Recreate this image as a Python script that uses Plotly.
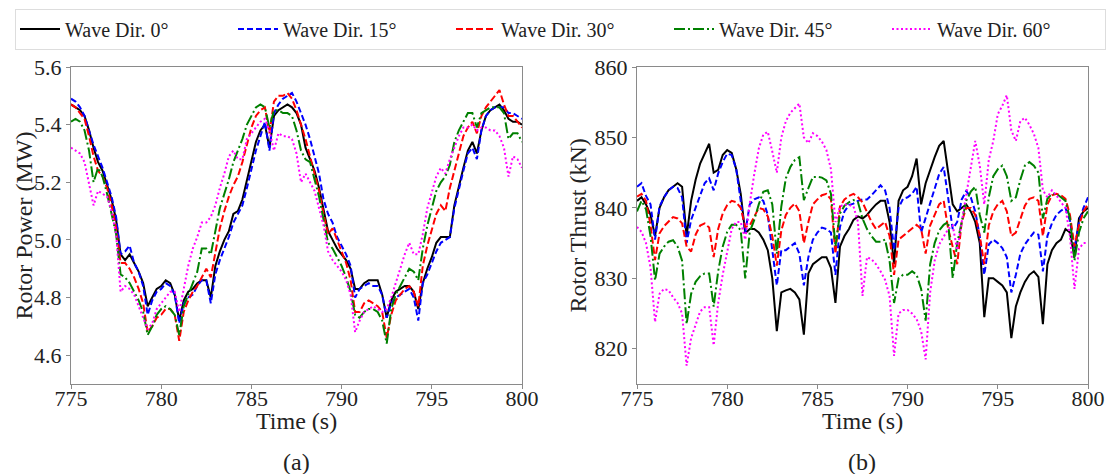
import plotly.graph_objects as go

# ---------------- data ----------------
time_s = [775.0, 775.25, 775.5, 775.75, 776.0, 776.25, 776.5, 776.75, 777.0, 777.25,
          777.5, 777.75, 778.0, 778.25, 778.5, 778.75, 779.0, 779.25, 779.5, 779.75,
          780.0, 780.25, 780.5, 780.75, 781.0, 781.25, 781.5, 781.75, 782.0, 782.25,
          782.5, 782.75, 783.0, 783.25, 783.5, 783.75, 784.0, 784.25, 784.5, 784.75,
          785.0, 785.25, 785.5, 785.75, 786.0, 786.25, 786.5, 786.75, 787.0, 787.25,
          787.5, 787.75, 788.0, 788.25, 788.5, 788.75, 789.0, 789.25, 789.5, 789.75,
          790.0, 790.25, 790.5, 790.75, 791.0, 791.25, 791.5, 791.75, 792.0, 792.25,
          792.5, 792.75, 793.0, 793.25, 793.5, 793.75, 794.0, 794.25, 794.5, 794.75,
          795.0, 795.25, 795.5, 795.75, 796.0, 796.25, 796.5, 796.75, 797.0, 797.25,
          797.5, 797.75, 798.0, 798.25, 798.5, 798.75, 799.0, 799.25, 799.5, 799.75,
          800.0]

series_names = ["Wave Dir. 0°", "Wave Dir. 15°", "Wave Dir. 30°", "Wave Dir. 45°", "Wave Dir. 60°"]

# Rotor power (MW)
power_dir0 = [5.47, 5.46, 5.45, 5.43, 5.38, 5.32, 5.27, 5.24, 5.19, 5.14, 5.07, 4.95, 4.93, 4.95, 4.92, 4.89, 4.85,
              4.77, 4.80, 4.83, 4.84, 4.86, 4.85, 4.81, 4.72, 4.79, 4.82, 4.83, 4.85, 4.86, 4.86, 4.80, 4.91, 4.96,
              5.00, 5.03, 5.09, 5.10, 5.14, 5.21, 5.28, 5.34, 5.38, 5.40, 5.32, 5.43, 5.45, 5.46, 5.47, 5.46, 5.44,
              5.40, 5.32, 5.28, 5.24, 5.18, 5.11, 5.03, 5.00, 4.97, 4.95, 4.93, 4.90, 4.83, 4.83, 4.85, 4.86, 4.86,
              4.86, 4.81, 4.73, 4.79, 4.82, 4.83, 4.84, 4.84, 4.82, 4.76, 4.85, 4.90, 4.94, 4.99, 5.01, 5.01, 5.01,
              5.12, 5.19, 5.25, 5.31, 5.34, 5.30, 5.38, 5.43, 5.45, 5.46, 5.47, 5.45, 5.42, 5.41, 5.41, 5.40]
power_dir15 = [5.49, 5.48, 5.46, 5.43, 5.38, 5.33, 5.29, 5.25, 5.20, 5.15, 5.08, 4.95, 4.96, 4.98, 4.92, 4.89, 4.84,
               4.74, 4.79, 4.82, 4.83, 4.85, 4.84, 4.81, 4.71, 4.78, 4.80, 4.81, 4.84, 4.86, 4.86, 4.78, 4.88, 4.93,
               4.97, 5.01, 5.06, 5.09, 5.12, 5.18, 5.25, 5.31, 5.36, 5.41, 5.31, 5.44, 5.47, 5.49, 5.50, 5.51, 5.48,
               5.44, 5.40, 5.35, 5.29, 5.23, 5.14, 5.09, 5.06, 5.01, 4.98, 4.95, 4.91, 4.80, 4.83, 4.84, 4.85, 4.84,
               4.84, 4.81, 4.73, 4.78, 4.80, 4.81, 4.82, 4.83, 4.80, 4.72, 4.85, 4.88, 4.92, 4.96, 4.99, 5.00, 5.01,
               5.11, 5.18, 5.24, 5.30, 5.32, 5.28, 5.38, 5.43, 5.45, 5.46, 5.46, 5.46, 5.44, 5.44, 5.43, 5.42]
power_dir30 = [5.47, 5.46, 5.44, 5.42, 5.36, 5.29, 5.24, 5.22, 5.18, 5.12, 5.04, 4.92, 4.92, 4.90, 4.87, 4.83, 4.78,
               4.68, 4.70, 4.73, 4.74, 4.76, 4.76, 4.74, 4.65, 4.75, 4.79, 4.82, 4.84, 4.87, 4.90, 4.87, 4.96, 5.04,
               5.10, 5.15, 5.19, 5.22, 5.27, 5.33, 5.39, 5.43, 5.45, 5.46, 5.37, 5.48, 5.50, 5.50, 5.51, 5.49, 5.45,
               5.40, 5.35, 5.29, 5.23, 5.17, 5.09, 5.02, 5.04, 5.00, 4.96, 4.92, 4.86, 4.75, 4.75, 4.78, 4.79, 4.78,
               4.77, 4.75, 4.66, 4.74, 4.79, 4.81, 4.83, 4.84, 4.82, 4.77, 4.91, 4.98, 5.04, 5.09, 5.12, 5.10, 5.18,
               5.24, 5.31, 5.36, 5.39, 5.41, 5.37, 5.43, 5.46, 5.48, 5.50, 5.52, 5.47, 5.43, 5.43, 5.41, 5.39]
power_dir45 = [5.41, 5.42, 5.41, 5.38, 5.31, 5.20, 5.25, 5.22, 5.16, 5.09, 5.02, 4.88, 4.87, 4.85, 4.82, 4.79, 4.75,
               4.67, 4.70, 4.74, 4.76, 4.77, 4.76, 4.74, 4.67, 4.77, 4.81, 4.85, 4.89, 4.97, 4.97, 4.95, 5.03, 5.11,
               5.16, 5.21, 5.27, 5.31, 5.35, 5.40, 5.43, 5.46, 5.47, 5.46, 5.39, 5.45, 5.45, 5.44, 5.44, 5.43, 5.38,
               5.31, 5.28, 5.27, 5.21, 5.15, 5.07, 4.99, 4.97, 4.94, 4.91, 4.87, 4.82, 4.74, 4.73, 4.75, 4.76, 4.76,
               4.75, 4.72, 4.64, 4.76, 4.81, 4.84, 4.87, 4.90, 4.89, 4.86, 4.97, 5.05, 5.11, 5.17, 5.20, 5.22, 5.26,
               5.34, 5.38, 5.41, 5.44, 5.44, 5.39, 5.44, 5.45, 5.46, 5.46, 5.46, 5.44, 5.35, 5.37, 5.37, 5.34]
power_dir60 = [5.32, 5.31, 5.30, 5.27, 5.20, 5.12, 5.17, 5.16, 5.15, 5.10, 5.02, 4.82, 4.84, 4.83, 4.81, 4.77, 4.73,
               4.69, 4.71, 4.76, 4.78, 4.80, 4.82, 4.82, 4.75, 4.83, 4.91, 4.97, 5.01, 5.06, 5.06, 5.08, 5.12, 5.18,
               5.23, 5.29, 5.31, 5.28, 5.28, 5.35, 5.37, 5.39, 5.41, 5.42, 5.38, 5.31, 5.37, 5.36, 5.36, 5.35, 5.30,
               5.20, 5.23, 5.20, 5.17, 5.11, 5.05, 4.96, 4.93, 4.91, 4.89, 4.86, 4.81, 4.68, 4.72, 4.75, 4.76, 4.77,
               4.76, 4.75, 4.76, 4.80, 4.85, 4.90, 4.95, 4.99, 4.95, 4.95, 5.02, 5.11, 5.17, 5.22, 5.25, 5.23, 5.28,
               5.32, 5.36, 5.39, 5.39, 5.40, 5.38, 5.39, 5.39, 5.38, 5.38, 5.36, 5.32, 5.22, 5.29, 5.28, 5.25]

# Rotor thrust (kN)
thrust_dir0 = [841, 841.5, 840.5, 839, 836, 840, 841.5, 842.5, 843, 843.5, 843, 836, 841, 844, 846.3, 847.7, 849.1,
               845, 845.4, 847.5, 848.2, 847.8, 845.5, 842, 836.4, 837, 837, 836.5, 835.5, 834, 830, 822.5, 828,
               828.3, 828.5, 828, 827, 822, 830.7, 832, 832.5, 833, 833, 831.5, 826.5, 834.5, 836, 837, 838.3,
               838.8, 838.5,
               839, 839.8, 840.5, 841, 841, 838, 832, 841, 842.5, 843, 844.5, 847, 840.5, 843.5, 845.5, 847.2,
               848.8, 849.5, 845, 840.5, 839.5, 840, 840.5, 839.5, 838, 835, 824.5, 830, 830, 829.5, 829, 828,
               821.5, 826, 828, 829.5, 830.5, 831, 830.2, 823.5, 832, 834, 835, 835.5, 837, 836.5, 833, 838.5,
               839.5, 840]
thrust_dir15 = [843, 843.5, 841.7, 840.5, 835.5, 840.2, 841.5, 842.5, 843, 842.8, 841.5, 835, 838.3, 840, 841.8,
                843.5, 844.2, 842.5, 844.9, 846.5, 847.7, 847.5, 845.5, 841, 836.5, 840.5, 841.2, 841.5, 841, 839,
                834, 829, 834, 834, 834.5, 835, 833.5, 829, 833, 835.5, 836.5, 837.2, 837, 836.5, 830.5, 837.3,
                839.5, 840.4, 840.6, 841, 841.2,
                841.2, 841.8, 842.5, 843.2, 842.5, 840, 834, 840, 841.3, 841.5, 842, 843, 836.5, 838.5, 840.5,
                842.5, 844.8, 845.8, 841, 837, 838, 841.2, 842.4, 841.5, 839.5, 836, 830.5, 834.8, 835.5, 835,
                834.3, 833, 828, 830.5, 833.5, 834.8, 835.7, 836.5, 836.2, 831, 836, 837.8, 839, 839.6, 840,
                838.2, 834.2, 838, 840, 841.5]
thrust_dir30 = [841.6, 842, 841, 837.5, 832.6, 836.4, 837.4, 838, 838.7, 838.5, 837.8, 834.5, 833.8, 836.2, 837.5,
                837.8, 837.2, 833, 837, 839.2, 840.4, 841, 840.8, 840, 837.3, 837.5, 838.8, 840, 839.8, 838.8, 836,
                831.8, 836.8, 839, 840, 840.6, 839.5, 835, 838, 840.5, 841.2, 841.8, 842, 841.2, 833.5, 840.2,
                841.2, 841.7, 842, 841.5, 840.8,
                839.5, 838, 837, 837.5, 838, 836, 830.5, 835.5, 836, 836.5, 837, 837.6, 837, 833.5, 837.5, 839,
                840.5, 841, 837, 834.5, 832, 838, 840, 840, 839, 836, 832, 837.5, 839.5, 840.5, 841, 839.5, 836,
                836.5, 838.5, 840.3, 841.3, 841.5, 841, 836, 840.5, 841.8, 842, 841.8, 841.3, 839, 834.5, 837.5,
                839.5, 840.5]
thrust_dir45 = [839.5, 841, 839.8, 836, 829.7, 833.5, 834.5, 835.2, 835.4, 834.5, 832.5, 823.5, 827.8, 829.5, 830.3,
                830.7, 830.7, 826, 831, 834.5, 836.6, 837.6, 837.6, 836.8, 830, 836.6, 838.3, 840.5, 842.3, 842.5,
                840.5, 833.5, 840.2, 844.2, 845.8, 846.8, 847.2, 841.1, 842.8, 844.4, 844.4, 844.3, 843.9, 842,
                834.5, 839.2, 840.3, 840.8, 841.1, 840.8, 838.5,
                837, 836, 835.2, 835.2, 835.5, 832.5, 826.5, 830, 830.5, 830.5, 831, 830.5, 828.5, 824, 832, 835,
                836.8, 837.6, 838, 830, 835, 838, 841, 842.3, 843, 839, 836.5, 841.5, 844.5, 845.5, 846, 844.5,
                841, 841.5, 844, 846, 846.5, 846, 845, 838.5, 841.3, 842, 842, 841.5, 841, 838.5, 832.5, 836.5,
                838.5, 839.5]
thrust_dir60 = [837.3, 836.6, 835, 831.5, 823.8, 827.8, 828.5, 828.3, 827.3, 826.5, 825, 817.6, 821.5, 823.5, 825.3,
                825.9, 825.9, 820.5, 826.5, 830.5, 834, 837, 838, 838, 835.5, 840.6, 844.8, 848.4, 850.4, 850.8,
                848, 845, 850, 852.3, 853.5, 854.2, 854.8, 850, 849.2, 850.6, 850.2, 849.4, 848.2, 845.5, 838,
                840.2, 840.5, 840.4, 840.2, 838, 827.5,
                833, 832.7, 832, 831, 829.8, 827.5, 819, 825, 825.5, 825.5, 825, 824.2, 822.5, 818.5, 828, 832.5,
                834.8, 836, 837, 837.5, 834, 838, 841.8, 846, 849.5, 846, 840.5, 846.8, 849.5, 853.3, 854.5, 856,
                851, 849.5, 852.3, 852.8, 851.8, 850.5, 848.5, 842.5, 841.5, 842.5, 841.8, 840.8, 840, 836, 828.5,
                834.2, 835, 835]

x_ticks = [775, 780, 785, 790, 795, 800]
power_ticks = [4.6, 4.8, 5.0, 5.2, 5.4, 5.6]
thrust_ticks = [820, 830, 840, 850, 860]

power_series = [power_dir0, power_dir15, power_dir30, power_dir45, power_dir60]
thrust_series = [thrust_dir0, thrust_dir15, thrust_dir30, thrust_dir45, thrust_dir60]
for s in power_series + thrust_series:
    assert len(s) == len(time_s), len(s)

# ---------------- styles ----------------
colors = ["#000000", "#0000ff", "#ff0000", "#008000", "#ff00ff"]
dashes = ["solid", "6px,3px", "7px,3px", "11px,3px,2px,3px", "2px,2.5px"]
FONT = "Liberation Serif, Times New Roman, serif"
W, H = 1110, 474

fig = go.Figure()
for i in range(5):
    fig.add_trace(go.Scatter(x=time_s, y=power_series[i], mode="lines", name=series_names[i],
                             line=dict(color=colors[i], width=2, dash=dashes[i]),
                             xaxis="x", yaxis="y", legendgroup=str(i)))
for i in range(5):
    fig.add_trace(go.Scatter(x=time_s, y=thrust_series[i], mode="lines", name=series_names[i],
                             line=dict(color=colors[i], width=2, dash=dashes[i]),
                             xaxis="x2", yaxis="y2", legendgroup=str(i), showlegend=False))

ydom = [1 - 384 / H, 1 - 67 / H]
axis_common = dict(showline=True, mirror=True, linecolor="#8a8a8a", linewidth=1.2, ticks="outside",
                   ticklen=4, tickcolor="#8a8a8a", showgrid=False, zeroline=False, automargin=False,
                   tickfont=dict(family=FONT, size=22, color="#222222"))

fig.update_layout(
    width=W, height=H, margin=dict(l=0, r=0, t=0, b=0, autoexpand=False),
    paper_bgcolor="white", plot_bgcolor="white",
    font=dict(family=FONT, color="#222222"),
    xaxis=dict(domain=[71 / W, 522 / W], range=[775, 800], tickvals=x_ticks, anchor="y",
               ticklabelstandoff=-10, **axis_common),
    yaxis=dict(domain=ydom, range=[4.5, 5.6], tickvals=power_ticks, tickformat=".1f", anchor="x", **axis_common),
    xaxis2=dict(domain=[637 / W, 1088 / W], range=[775, 800], tickvals=x_ticks, anchor="y2",
                ticklabelstandoff=-10, **axis_common),
    yaxis2=dict(domain=ydom, range=[815, 860], tickvals=thrust_ticks, anchor="x2", **axis_common),
    legend=dict(orientation="h", x=15 / W, xanchor="left", y=1 - 29 / H, yanchor="middle",
                bgcolor="white", bordercolor="#dddddd", borderwidth=1,
                font=dict(family=FONT, size=20, color="#222222"),
                entrywidth=163, entrywidthmode="pixels", itemwidth=40, tracegroupgap=0),
    showlegend=True,
)

ann = dict(xref="paper", yref="paper", showarrow=False, font=dict(family=FONT, size=24, color="#222222"))
fig.add_annotation(x=296.5 / W, y=1 - 421 / H, text="Time (s)", xanchor="center", yanchor="middle", **ann)
fig.add_annotation(x=862.5 / W, y=1 - 421 / H, text="Time (s)", xanchor="center", yanchor="middle", **ann)
fig.add_annotation(x=296.5 / W, y=1 - 462 / H, text="(a)", xanchor="center", yanchor="middle", **ann)
fig.add_annotation(x=862.5 / W, y=1 - 462 / H, text="(b)", xanchor="center", yanchor="middle", **ann)
fig.add_annotation(x=23 / W, y=1 - 225.5 / H, text="Rotor Power (MW)", textangle=-90,
                   xanchor="center", yanchor="middle", **ann)
fig.add_annotation(x=577 / W, y=1 - 225.5 / H, text="Rotor Thrust (kN)", textangle=-90,
                   xanchor="center", yanchor="middle", **ann)

fig.write_html("out.html")
